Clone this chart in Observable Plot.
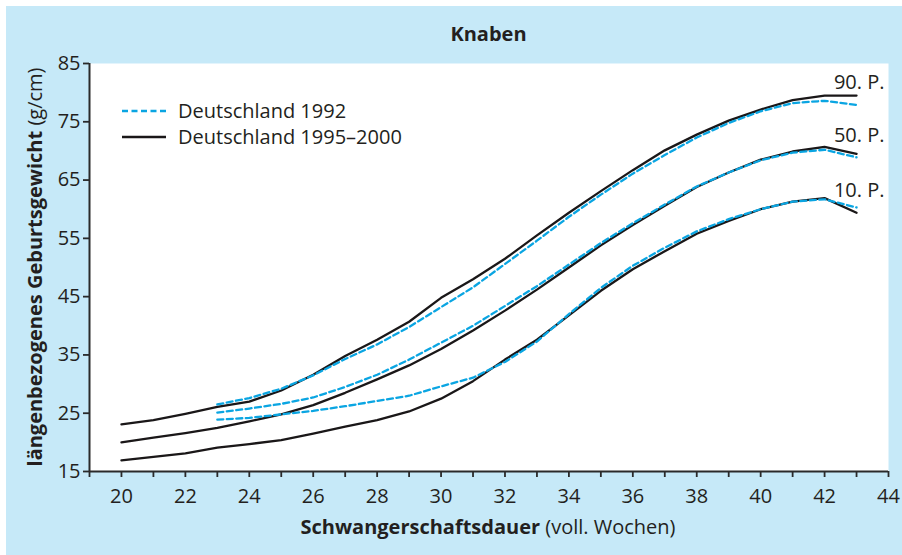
<!DOCTYPE html>
<html><head><meta charset="utf-8">
<script src="https://cdn.jsdelivr.net/npm/d3@7"></script>
<script src="https://cdn.jsdelivr.net/npm/@observablehq/plot@0.6"></script>
<style>
body{margin:0;background:#fff;font-family:"Open Sans",sans-serif;color:#231f20;}
#wrap{position:relative;width:902px;height:555px;overflow:hidden;}
#panel{position:absolute;left:6px;top:6px;width:896px;height:549px;background:#c6e9f8;}
#title{position:absolute;left:89px;width:799px;top:20px;text-align:center;font-weight:bold;font-size:20px;line-height:28px;}
#chart{position:absolute;left:0;top:0;}
#ytitle{position:absolute;left:34px;top:267px;transform:translate(-50%,-50%) rotate(-90deg);white-space:nowrap;font-size:20px;}
#xtitle{position:absolute;left:488px;top:526px;transform:translate(-50%,-50%);white-space:nowrap;font-size:20px;}
#legend{position:absolute;left:120px;top:98px;font-size:20px;line-height:26px;}
#legend div{display:flex;align-items:center;}
#legend svg{margin-right:10px;}
</style></head>
<body>
<div id="wrap">
<div id="panel"></div>
<div id="title">Knaben</div>
<div id="chart"></div>
<div id="ytitle"><b>längenbezogenes Geburtsgewicht</b> (g/cm)</div>
<div id="xtitle"><b>Schwangerschaftsdauer</b> (voll. Wochen)</div>
<div id="legend"></div>
</div>
<script>
// Data
const weeksNew = [20,21,22,23,24,25,26,27,28,29,30,31,32,33,34,35,36,37,38,39,40,41,42,43];
const p90New = [23.1,23.8,24.9,26.1,27.0,28.9,31.6,34.8,37.6,40.7,44.8,48.0,51.5,55.5,59.4,63.1,66.7,70.1,72.8,75.2,77.1,78.7,79.5,79.5];
const p50New = [20.0,20.8,21.6,22.5,23.6,24.8,26.4,28.5,30.8,33.2,36.0,39.2,42.6,46.2,50.0,53.8,57.3,60.6,63.8,66.3,68.5,69.9,70.7,69.5];
const p10New = [16.9,17.5,18.1,19.1,19.7,20.4,21.5,22.7,23.8,25.3,27.5,30.5,34.2,37.6,41.8,46.0,49.7,52.8,55.8,58.0,60.0,61.3,61.9,59.4];

const weeksOld = [23,24,25,26,27,28,29,30,31,32,33,34,35,36,37,38,39,40,41,42,43];
const p90Old = [26.5,27.6,29.2,31.5,34.3,36.8,39.8,43.2,46.6,50.6,54.6,58.7,62.5,66.1,69.3,72.3,74.8,76.8,78.2,78.6,77.9];
const p50Old = [25.1,25.8,26.6,27.7,29.5,31.6,34.2,37.1,40.0,43.4,46.8,50.5,54.2,57.6,60.8,63.9,66.3,68.4,69.7,70.2,68.9];
const p10Old = [23.9,24.2,24.8,25.4,26.2,27.1,28.0,29.6,31.1,33.8,37.3,42.0,46.5,50.3,53.4,56.2,58.3,60.0,61.3,61.7,60.3];

const xTicks = [19,20,21,22,23,24,25,26,27,28,29,30,31,32,33,34,35,36,37,38,39,40,41,42,43,44];
const xLabels = [20,22,24,26,28,30,32,34,36,38,40,42,44];
const yTicks = [15,25,35,45,55,65,75,85];
const pLabels = ["90. P.","50. P.","10. P."];
const pLabelY = [81.7,72.6,63.2];
const seriesNames = ["Deutschland 1992","Deutschland 1995–2000"];

const toRows = (weeks, vals, p) => weeks.map((w,i)=>({w, v: vals[i], p}));
const newRows = [...toRows(weeksNew,p90New,"90"),...toRows(weeksNew,p50New,"50"),...toRows(weeksNew,p10New,"10")];
const oldRows = [...toRows(weeksOld,p90Old,"90"),...toRows(weeksOld,p50Old,"50"),...toRows(weeksOld,p10Old,"10")];
const labelRows = pLabels.map((t,i)=>({t, y: pLabelY[i]}));

const BLUE = "#0aa5e2", BLACK = "#1a1718";

const plot = Plot.plot({
  width: 902, height: 555,
  marginLeft: 89, marginRight: 14, marginTop: 63, marginBottom: 84,
  style: {background: "transparent", fontFamily: "'Open Sans', sans-serif", fontSize: "20px", color: "#231f20"},
  x: {domain: [19,44]},
  y: {domain: [15,85]},
  marks: [
    Plot.frame({fill: "white", stroke: null}),
    Plot.axisX({ticks: xTicks, tickSize: 6, tickFormat: () => "", label: null, strokeWidth: 1.8, stroke: "#2a2a2a"}),
    Plot.axisX({ticks: xLabels, tickSize: 0, tickPadding: 17, label: null, fontSize: 20}),
    Plot.axisY({ticks: yTicks, tickSize: 6, tickPadding: 3, label: null, fontSize: 20, strokeWidth: 1.8, stroke: "#2a2a2a"}),
    Plot.ruleX([19], {stroke: "#2a2a2a", strokeWidth: 2}),
    Plot.ruleY([15], {stroke: "#2a2a2a", strokeWidth: 2}),
    Plot.line(newRows, {x: "w", y: "v", z: "p", stroke: BLACK, strokeWidth: 2.3}),
    Plot.line(oldRows, {x: "w", y: "v", z: "p", stroke: BLUE, strokeWidth: 2.3, strokeDasharray: "6,3.5"}),
    Plot.text(labelRows, {x: 44, y: "y", text: "t", textAnchor: "end", dx: -4, fontSize: 20, fill: "#231f20"})
  ]
});
document.getElementById("chart").appendChild(plot);

const leg = document.getElementById("legend");
seriesNames.forEach((name,i)=>{
  const d = document.createElement("div");
  d.innerHTML = `<svg width="48" height="10"><line x1="2" x2="46" y1="5" y2="5" stroke="${i===0?BLUE:BLACK}" stroke-width="2.3" ${i===0?'stroke-dasharray="6,3.5"':''}/></svg><span>${name}</span>`;
  leg.appendChild(d);
});
</script>
</body></html>
